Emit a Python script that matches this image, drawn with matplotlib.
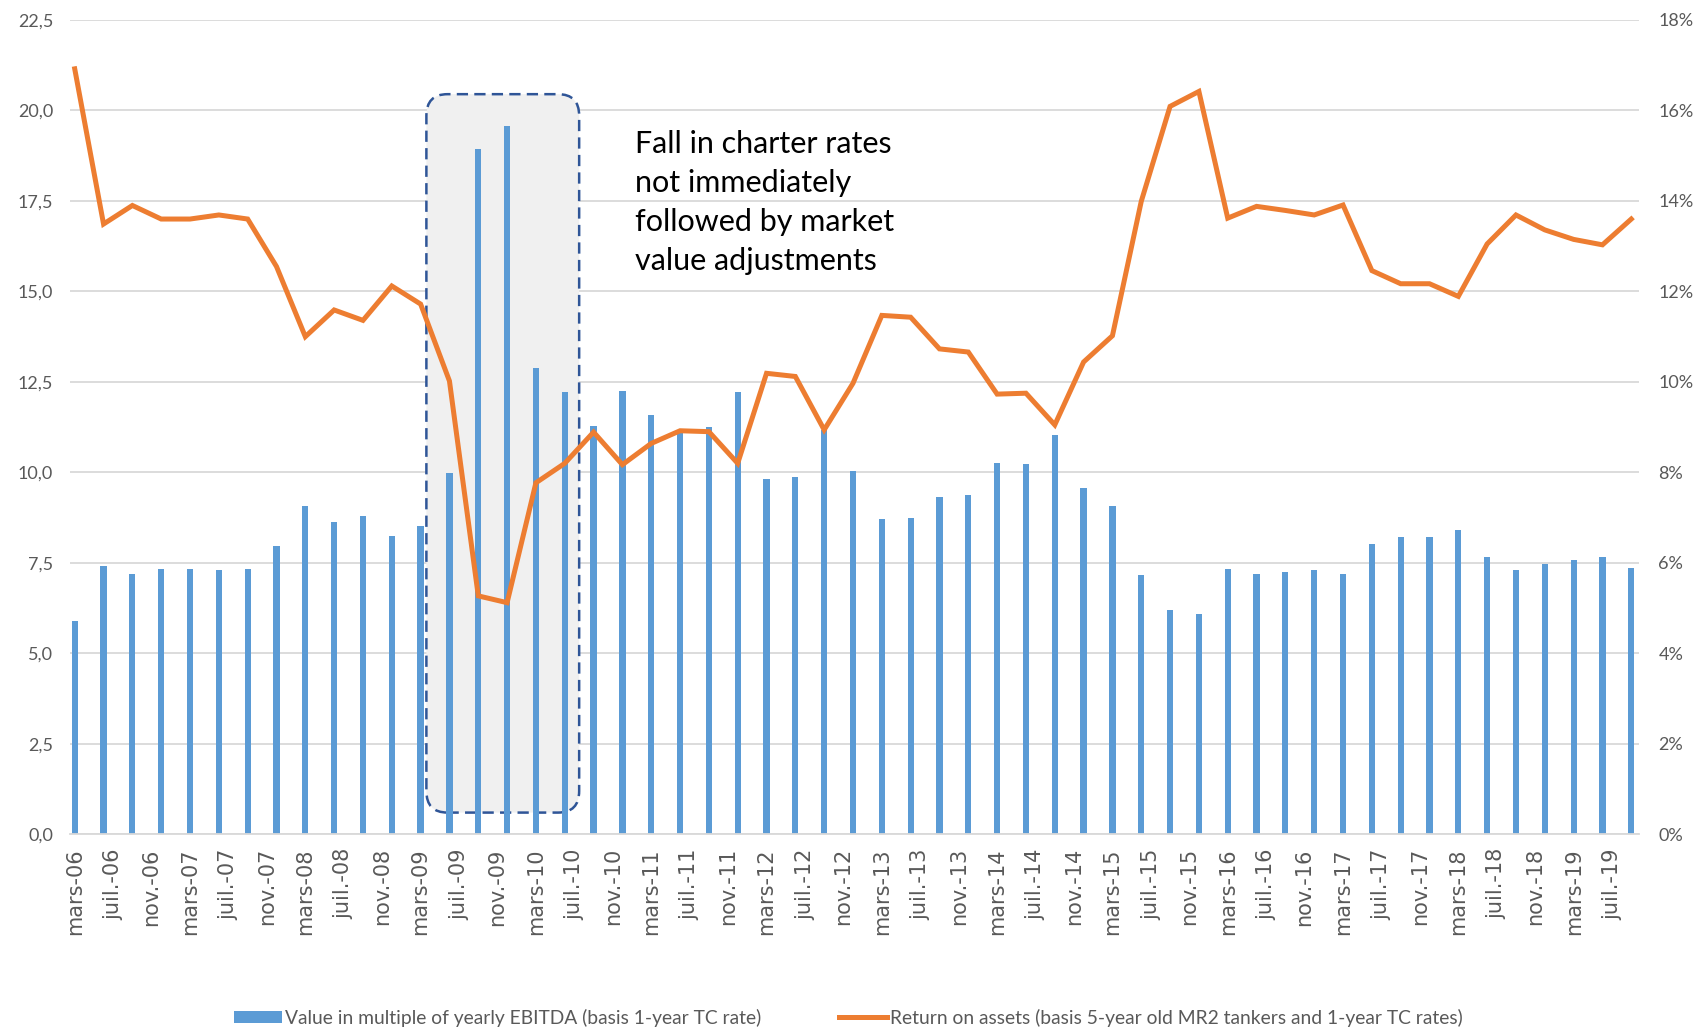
import numpy as np
import pandas as pd
import matplotlib
matplotlib.use("Agg")
import matplotlib.pyplot as plt
from matplotlib.patches import FancyBboxPatch
from matplotlib.ticker import FuncFormatter

# quarterly observations, mars-06 .. sept.-19
dates = pd.date_range("2006-03-01", periods=55, freq="3MS")

ebitda_multiple = [
    5.90, 7.40, 7.19, 7.34, 7.34, 7.30, 7.34, 7.97, 9.06, 8.62, 8.79, 8.25, 8.53,
    9.99, 18.94, 19.56, 12.88, 12.21, 11.27, 12.25, 11.59, 11.17, 11.25, 12.21,
    9.81, 9.88, 11.17, 10.04, 8.72, 8.74, 9.31, 9.38, 10.25, 10.23, 11.03, 9.57,
    9.07, 7.16, 6.20, 6.08, 7.32, 7.20, 7.25, 7.30, 7.18, 8.01, 8.22, 8.22, 8.40,
    7.66, 7.30, 7.48, 7.59, 7.66, 7.35,
]

return_on_assets = [
    16.92, 13.49, 13.90, 13.60, 13.60, 13.69, 13.60, 12.55, 11.00, 11.59, 11.36,
    12.12, 11.72, 10.02, 5.27, 5.12, 7.77, 8.20, 8.89, 8.17, 8.64, 8.92, 8.90,
    8.20, 10.19, 10.12, 8.94, 9.97, 11.47, 11.43, 10.73, 10.66, 9.73, 9.75, 9.05,
    10.44, 11.02, 13.99, 16.09, 16.42, 13.62, 13.88, 13.79, 13.69, 13.91, 12.46,
    12.17, 12.17, 11.89, 13.05, 13.69, 13.36, 13.15, 13.03, 13.60,
]

tick_dates = pd.date_range("2006-03-01", "2019-07-01", freq="4MS")
month_names = {3: "mars", 7: "juil.", 11: "nov."}
tick_labels = [f"{month_names[d.month]}-{d.year % 100:02d}" for d in tick_dates]

label_bar = "Value in multiple of yearly EBITDA (basis 1-year TC rate)"
label_line = "Return on assets (basis 5-year old MR2 tankers and 1-year TC rates)"
note = "Fall in charter rates\nnot immediately\nfollowed by market\nvalue adjustments"


def month_index(d):
    # excel date axis with a monthly base unit: equal spacing per month
    return (d.year - 2006) * 12 + (d.month - 3)


x = np.array([month_index(d) for d in dates])
xt = np.array([month_index(d) for d in tick_dates])

plt.rcParams["font.family"] = ["Lato", "DejaVu Sans"]

fig = plt.figure(figsize=(16.97, 10.30), dpi=100)
ax = fig.add_axes([0.0412, 0.19, 0.9246, 0.7906])
ax2 = ax.twinx()

grey = "#595959"
grid = "#D9D9D9"

ax.set_xlim(-0.5, 162.8)
ax.set_ylim(0, 22.5)
ax2.set_ylim(0, 18)

ax.set_yticks(np.arange(0, 22.6, 2.5))
ax.yaxis.set_major_formatter(FuncFormatter(lambda v, p: f"{v:.1f}".replace(".", ",")))
ax2.set_yticks(np.arange(0, 18.1, 2))
ax2.yaxis.set_major_formatter(FuncFormatter(lambda v, p: f"{v:.0f}%"))
ax.grid(axis="y", color=grid, linewidth=1.3)
ax.set_axisbelow(True)

for a in (ax, ax2):
    for s in a.spines.values():
        s.set_visible(False)
ax.spines["bottom"].set_visible(True)
ax.spines["bottom"].set_color(grid)
ax.spines["bottom"].set_linewidth(1.3)

ax.tick_params(axis="y", length=0, labelsize=13, labelcolor=grey, pad=12)
ax2.tick_params(axis="y", length=0, labelsize=13, labelcolor=grey, pad=14)
ax.set_xticks(xt)
ax.set_xticklabels(tick_labels, rotation=90, fontsize=15, color=grey,
                   family="DejaVu Sans")
ax.tick_params(axis="x", length=0, pad=10)

# highlighted period
box = FancyBboxPatch((36.6, 0.60), 52.5 - 36.6, 20.45 - 0.60,
                     boxstyle="round,pad=0,rounding_size=2.2",
                     mutation_aspect=0.27,
                     facecolor="#F0F0F0", edgecolor="#2F5597",
                     linewidth=1.8, linestyle=(0, (4.5, 2.5)), zorder=1)
ax.add_patch(box)

bars = ax.bar(x, ebitda_multiple, width=0.65, color="#5B9BD5", zorder=2,
              label=label_bar)
line, = ax2.plot(x, return_on_assets, color="#ED7D31", linewidth=3.6,
                 solid_joinstyle="miter", label=label_line, zorder=3)

ax.text(58.3, 19.47, note, fontsize=22, color="black", va="top", ha="left",
        linespacing=1.49, zorder=4)

fig.legend([bars, line], [label_bar, label_line], loc="center",
           bbox_to_anchor=(0.5, 0.012), ncol=2, frameon=False,
           fontsize=13.9, labelcolor=grey, handlelength=2.5, handleheight=0.6,
           handletextpad=0.15, columnspacing=4.0)

fig.savefig("out.png", dpi=100)
plt.close(fig)
